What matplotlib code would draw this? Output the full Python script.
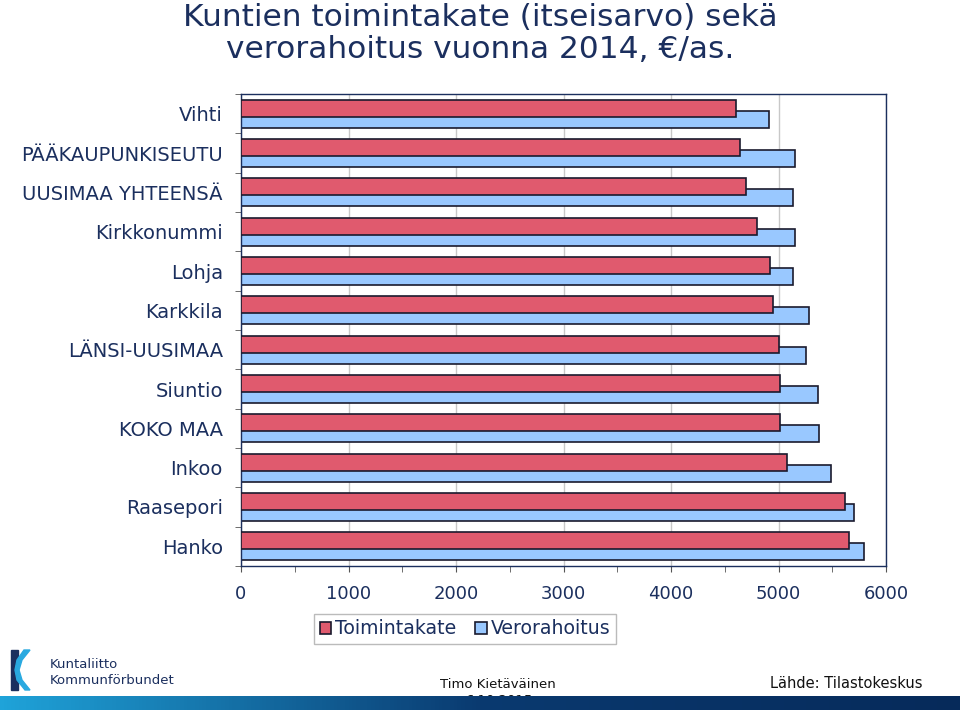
import numpy as np
import matplotlib.pyplot as plt
from matplotlib.patches import Polygon
from matplotlib.colors import LinearSegmentedColormap

categories = ["Vihti", "PÄÄKAUPUNKISEUTU", "UUSIMAA YHTEENSÄ", "Kirkkonummi", "Lohja",
              "Karkkila", "LÄNSI-UUSIMAA", "Siuntio", "KOKO MAA", "Inkoo", "Raasepori", "Hanko"]
toimintakate = [4605, 4642, 4698, 4800, 4921, 4949, 5005, 5014, 5014, 5079, 5619, 5656]
verorahoitus = [4912, 5153, 5135, 5153, 5135, 5284, 5256, 5367, 5377, 5488, 5702, 5795]
xticks = [0, 1000, 2000, 3000, 4000, 5000, 6000]

navy = "#1b2f5e"
red = "#e05a6e"
blue = "#99c8ff"

fig = plt.figure(figsize=(9.6, 7.1), dpi=100)
ax = fig.add_axes([241/960, 1-566/710, 645/960, 472/710])

y = np.arange(len(categories))
h = 0.44
ax.barh(y + 0.14, verorahoitus, height=h, color=blue, edgecolor="#1a1a2e", linewidth=1.2,
        label="Verorahoitus", zorder=2)
ax.barh(y - 0.14, toimintakate, height=h, color=red, edgecolor="#1a1a2e", linewidth=1.2,
        label="Toimintakate", zorder=3)

ax.set_ylim(len(categories) - 0.5, -0.5)
ax.set_xlim(0, 6000)
ax.set_yticks(y)
ax.set_yticklabels(categories, fontsize=14, color=navy)
ax.set_yticks(np.arange(len(categories) + 1) - 0.5, minor=True)
ax.set_xticks(xticks)
ax.set_xticklabels([str(t) for t in xticks], fontsize=13, color=navy)
ax.set_xticks(np.arange(500, 6000, 1000), minor=True)
ax.tick_params(axis="y", which="major", length=0, pad=13)
ax.tick_params(axis="y", which="minor", length=4, color="#555555")
ax.tick_params(axis="x", which="both", length=4, color="#555555", pad=10)
ax.grid(axis="x", color="#c8c8c8", linewidth=1, zorder=0)
ax.set_axisbelow(True)
for s in ax.spines.values():
    s.set_color(navy)
    s.set_linewidth(1)

handles, labels = ax.get_legend_handles_labels()
leg = fig.legend(handles[::-1], labels[::-1], loc="center", bbox_to_anchor=(465/960, 1-629/710),
                 ncol=2, fontsize=13.6, frameon=True, fancybox=False, edgecolor="#aaaaaa",
                 handlelength=0.6, handleheight=0.6, handletextpad=0.2, columnspacing=1.0,
                 borderpad=0.3)
for t in leg.get_texts():
    t.set_color(navy)

fig.text(0.5, 1-17/710, "Kuntien toimintakate (itseisarvo) sekä", ha="center", va="center",
         fontsize=22.5, color=navy)
fig.text(0.5, 1-50/710, "verorahoitus vuonna 2014, €/as.", ha="center", va="center",
         fontsize=22.5, color=navy)

# footer
fig.text(440/960, 1-684/710, "Timo Kietäväinen", fontsize=9.5, color="#111111", va="center")
fig.text(465/960, 1-700/710, "6.10.2015", fontsize=9.5, color="#111111", va="center")
fig.text(770/960, 1-684/710, "Lähde: Tilastokeskus", fontsize=10.5, color="#111111", va="center")
fig.text(50/960, 1-664/710, "Kuntaliitto", fontsize=9.5, color=navy, va="center")
fig.text(50/960, 1-680/710, "Kommunförbundet", fontsize=9.5, color=navy, va="center")

lax = fig.add_axes([0, 0, 1, 1], zorder=-1)
lax.set_xlim(0, 960)
lax.set_ylim(710, 0)
lax.axis("off")
lax.add_patch(Polygon([[11, 650], [18, 650], [18, 690], [11, 690]], closed=True, color=navy))
lax.add_patch(Polygon([[30, 650], [22, 660], [19, 670], [22, 680], [30, 690], [25, 690],
                       [17, 680], [15, 670], [17, 660], [24, 650]], closed=True, color="#29a9e0"))

bax = fig.add_axes([0, 0, 1, 14/710], zorder=5)
grad = np.linspace(0, 1, 256).reshape(1, -1)
cmap = LinearSegmentedColormap.from_list("band", ["#1fa3d9", "#0a3a70", "#062a5a"])
bax.imshow(grad, aspect="auto", cmap=cmap, extent=[0, 1, 0, 1])
bax.axis("off")

fig.savefig("out.png", dpi=100)
